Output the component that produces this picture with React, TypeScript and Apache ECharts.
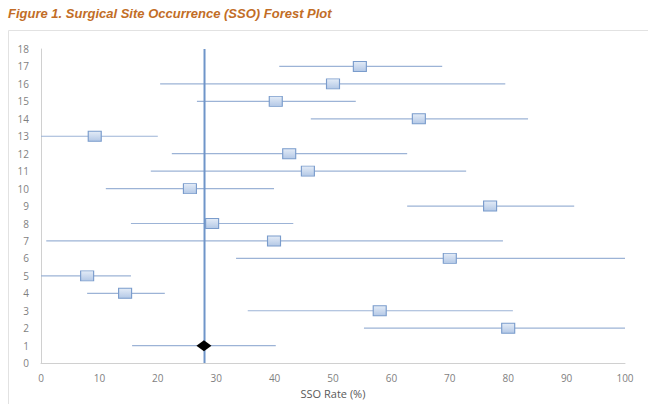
import React, { useEffect, useRef } from "react";
import * as echarts from "echarts";

const studies = [17, 16, 15, 14, 13, 12, 11, 10, 9, 8, 7, 6, 5, 4, 3, 2];
const estimates = [54.6, 50.0, 40.2, 64.7, 9.2, 42.5, 45.7, 25.5, 76.9, 29.3, 39.9, 70.0, 7.9, 14.4, 58.0, 80.0];
const lowerCI = [40.8, 20.4, 26.7, 46.2, 0, 22.4, 18.8, 11.1, 62.7, 15.4, 0.9, 33.4, 0, 7.9, 35.4, 55.3];
const upperCI = [68.7, 79.5, 53.9, 83.4, 20.0, 62.7, 72.8, 39.9, 91.3, 43.2, 79.1, 100, 15.4, 21.2, 80.8, 100];

const pooledRow = 1;
const pooledEstimate = 27.9;
const pooledLower = 15.6;
const pooledUpper = 40.2;

const referenceLine = 28;
const referenceSpan = [0, 18];

export default function App() {
  const ref = useRef<HTMLDivElement>(null);
  useEffect(() => {
    if (!ref.current) return;
    const chart = echarts.init(ref.current, undefined, { renderer: "svg" });
    const ciData = studies.map((s, i) => [lowerCI[i], upperCI[i], s]);
    ciData.push([pooledLower, pooledUpper, pooledRow]);
    const font = "'Open Sans', sans-serif";
    chart.setOption({
      animation: false,
      backgroundColor: "#fff",
      graphic: [
        {
          type: "text",
          left: 8,
          top: 7,
          style: {
            text: "Figure 1. Surgical Site Occurrence (SSO) Forest Plot",
            fill: "#c26d26",
            font: "italic bold 13px 'Liberation Sans', Arial, sans-serif",
          },
        },
        {
          type: "rect",
          shape: { x: 8.5, y: 30.5, width: 700, height: 400 },
          style: { fill: "none", stroke: "#e2e2e2", lineWidth: 1 },
          z: -1,
        },
      ],
      grid: { left: 41, right: 23, top: 49, bottom: 35 },
      xAxis: {
        type: "value",
        min: 0,
        max: 100,
        interval: 10,
        name: "SSO Rate (%)",
        nameLocation: "middle",
        nameGap: 24,
        nameTextStyle: { color: "#595959", fontSize: 11, fontFamily: font },
        axisLine: { show: true, lineStyle: { color: "#d0d0d0" } },
        axisTick: { show: false },
        splitLine: { show: false },
        axisLabel: { color: "#7f7f7f", fontSize: 10, fontFamily: font, margin: 10 },
      },
      yAxis: {
        type: "value",
        min: 0,
        max: 18,
        interval: 1,
        axisLine: { show: true, lineStyle: { color: "#d0d0d0" } },
        axisTick: { show: false },
        splitLine: { show: false },
        axisLabel: { color: "#7f7f7f", fontSize: 10, fontFamily: font, margin: 12 },
      },
      series: [
        {
          type: "custom",
          data: ciData,
          encode: { x: [0, 1], y: 2 },
          renderItem: (params: any, api: any) => {
            const p1 = api.coord([api.value(0), api.value(2)]);
            const p2 = api.coord([api.value(1), api.value(2)]);
            return {
              type: "line",
              shape: { x1: p1[0], y1: p1[1], x2: p2[0], y2: p2[1] },
              style: { stroke: "#9cb3d6", lineWidth: 1.2 },
            };
          },
          z: 1,
        },
        {
          type: "line",
          data: referenceSpan.map((v) => [referenceLine, v]),
          symbol: "none",
          lineStyle: { color: "#6f95c9", width: 2 },
          z: 2,
        },
        {
          type: "scatter",
          data: studies.map((s, i) => [estimates[i], s]),
          symbol: "rect",
          symbolSize: [13, 10],
          itemStyle: {
            color: new echarts.graphic.LinearGradient(0, 0, 0, 1, [
              { offset: 0, color: "#e4ecf7" },
              { offset: 1, color: "#b3c8e6" },
            ]),
            borderColor: "#7a9ccc",
            borderWidth: 1,
            opacity: 1,
          },
          z: 3,
        },
        {
          type: "scatter",
          data: [[pooledEstimate, pooledRow]],
          symbol: "diamond",
          symbolSize: [15, 11],
          itemStyle: { color: "#000", opacity: 1 },
          z: 4,
        },
      ],
    });
    return () => chart.dispose();
  }, []);
  return (
    <div
      ref={ref}
      style={{ position: "fixed", left: 0, top: 0, width: 648, height: 404 }}
    />
  );
}
